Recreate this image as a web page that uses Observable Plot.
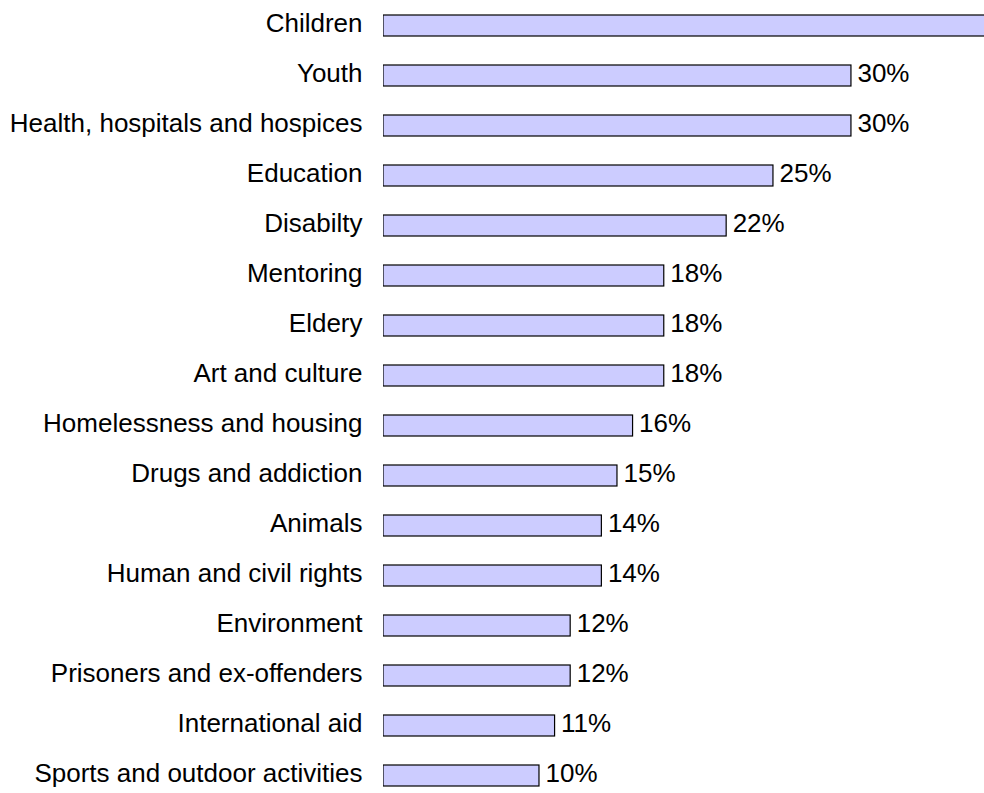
<!DOCTYPE html>
<html>
<head>
<meta charset="utf-8">
<script src="https://cdn.jsdelivr.net/npm/d3@7"></script>
<script src="https://cdn.jsdelivr.net/npm/@observablehq/plot@0.6"></script>
<style>
  html, body { margin: 0; padding: 0; background: #fff; overflow: hidden; }
</style>
</head>
<body>
<div id="chart"></div>
<script>
const categories = [
  "Children", "Youth", "Health, hospitals and hospices", "Education", "Disabilty",
  "Mentoring", "Eldery", "Art and culture", "Homelessness and housing",
  "Drugs and addiction", "Animals", "Human and civil rights", "Environment",
  "Prisoners and ex-offenders", "International aid", "Sports and outdoor activities"
];
// NOTE: the "Children" value cannot be read from the reference: its bar runs past the
// right edge (beyond ~38.5%) and its label is cut off. 42 is an estimate only.
const values = [42, 30, 30, 25, 22, 18, 18, 18, 16, 15, 14, 14, 12, 12, 11, 10];

const xMax = 38.53;
const data = categories.map((c, i) => ({category: c, value: values[i]}));
// the reference crops the longest bar at the right edge, so its label is not shown
const labelled = data.filter(d => d.value < xMax - 3);

const chart = Plot.plot({
  width: 984,
  height: 793,
  marginLeft: 383,
  marginRight: 0,
  marginTop: 12,
  marginBottom: 5,
  style: {fontFamily: "'Liberation Sans', Arial, sans-serif", fontSize: "26px", color: "#000", background: "#fff"},
  x: {domain: [0, xMax], axis: null},
  y: {domain: categories, paddingInner: 0.583, paddingOuter: 0, label: null},
  marks: [
    Plot.axisY({tickSize: 0, tickPadding: 21, label: null, fontSize: 26, dy: -2}),
    Plot.barX(data, {y: "category", x1: 0, x2: "value", fill: "#ccccff", stroke: "#000", strokeWidth: 1.2, clip: true}),
    Plot.text(labelled, {y: "category", x: "value", text: d => d.value + "%", textAnchor: "start", dx: 6, dy: -2, fontSize: 26, fill: "#000"})
  ]
});
document.getElementById("chart").appendChild(chart);
</script>
</body>
</html>
